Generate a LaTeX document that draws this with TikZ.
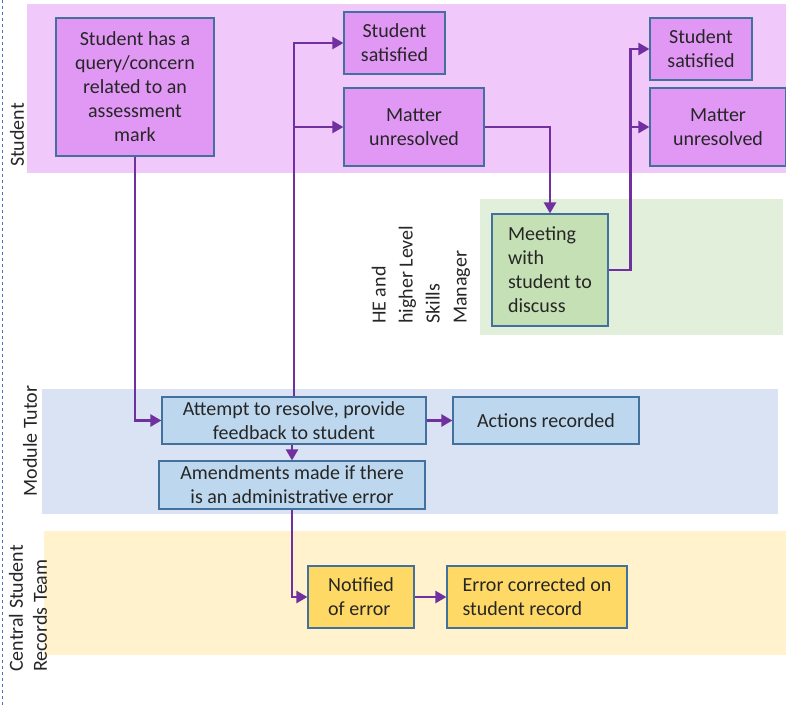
\documentclass[tikz,border=0pt]{standalone}
\usepackage{fontspec}
\setmainfont{Carlito}
\usetikzlibrary{arrows.meta}

\definecolor{stulane}{RGB}{240,201,250}
\definecolor{stubox}{RGB}{225,152,245}
\definecolor{mgrlane}{RGB}{226,239,218}
\definecolor{mgrbox}{RGB}{197,224,180}
\definecolor{tutlane}{RGB}{218,227,243}
\definecolor{tutbox}{RGB}{189,215,238}
\definecolor{reclane}{RGB}{255,242,204}
\definecolor{recbox}{RGB}{255,217,102}
\definecolor{boxline}{RGB}{65,113,156}
\definecolor{flowpurple}{RGB}{112,48,160}
\definecolor{dashline}{RGB}{68,114,196}
\definecolor{inkgrey}{RGB}{38,38,38}

\begin{document}
\begin{tikzpicture}[x=1pt,y=-1pt,
	font=\fontsize{20}{24}\selectfont,
	box/.style={draw=boxline,line width=1.2pt,inner sep=0pt,align=center,text=inkgrey},
	flow/.style={draw=flowpurple,line width=2.5pt,-{Triangle[length=11pt,width=12pt]}},
	lanelabel/.style={rotate=90,text=inkgrey,align=left,inner sep=0pt}]
	\useasboundingbox (0,0) rectangle (786,707);

	% Lanes
	\fill[stulane] (27,4) rectangle (786,173);
	\fill[mgrlane] (480,199) rectangle (783,335);
	\fill[tutlane] (42,389) rectangle (778,514);
	\fill[reclane] (44,531) rectangle (786,655);
	\draw[dashline,dashed,line width=0.8pt] (2,0) -- (2,707);

	\node (lstu) [lanelabel] at (17,135) {Student};
	\node (lmgr) [lanelabel,anchor=west,font=\fontsize{20}{27}\selectfont] at (421,324) {HE and\\higher Level\\Skills\\Manager};
	\node (ltut) [lanelabel] at (30,441) {Module Tutor};
	\node (lrec) [lanelabel,anchor=west] at (28,672) {Central Student\\Records Team};

	% Student
	\node (query) [box,fill=stubox,minimum width=158pt,minimum height=138pt] at (135,87) {Student has a\\query/concern\\related to an\\assessment\\mark};
	\node (sat1) [box,fill=stubox,minimum width=101pt,minimum height=62pt] at (394.5,43) {Student\\satisfied};
	\node (unres1) [box,fill=stubox,minimum width=140pt,minimum height=78pt] at (414,127) {Matter\\unresolved};
	\node (sat2) [box,fill=stubox,minimum width=102pt,minimum height=62pt] at (701,49) {Student\\satisfied};
	\node (unres2) [box,fill=stubox,minimum width=136pt,minimum height=78pt] at (718,127) {Matter\\unresolved};

	% Manager
	\node (meeting) [box,fill=mgrbox,align=left,minimum width=116pt,minimum height=112pt] at (550,270) {Meeting\\with\\student to\\discuss};

	% Module Tutor
	\node (attempt) [box,fill=tutbox,minimum width=264pt,minimum height=47pt] at (294,420.5) {Attempt to resolve, provide\\feedback to student};
	\node (actions) [box,fill=tutbox,minimum width=186pt,minimum height=47pt] at (546,420.5) {Actions recorded};
	\node (amend) [box,fill=tutbox,minimum width=266pt,minimum height=48pt] at (292,485) {Amendments made if there\\is an administrative error};

	% Records Team
	\node (notified) [box,fill=recbox,align=left,minimum width=106pt,minimum height=62pt] at (361,597) {Notified\\of error};
	\node (errfix) [box,fill=recbox,align=left,minimum width=180pt,minimum height=62pt] at (537,597) {Error corrected on\\student record};

	% Flow
	\draw[flow] (query) |- (attempt);
	\draw[flow] (attempt) |- (sat1);
	\draw[flow] (attempt) |- (unres1);
	\draw[flow] (unres1) -| (meeting);
	\draw[flow] (meeting.east) -- ++(22,0) |- (sat2.west);
	\draw[flow] (meeting.east) -- ++(22,0) |- (unres2.west);
	\draw[flow] (attempt) -- (actions);
	\draw[flow] (amend.north |- attempt.south) -- (amend.north);
	\draw[flow] (amend) |- (notified);
	\draw[flow] (notified) -- (errfix);
\end{tikzpicture}
\end{document}
